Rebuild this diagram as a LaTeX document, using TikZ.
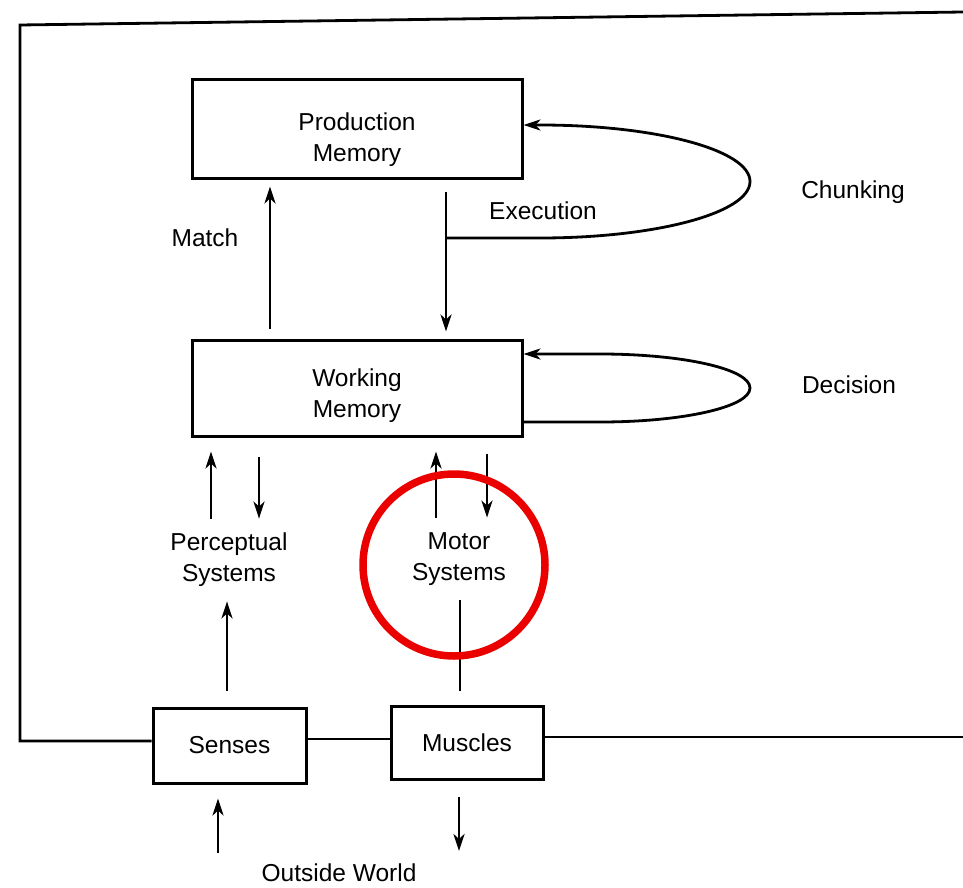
\documentclass[tikz,border=0pt]{standalone}
\usepackage{fontspec}
\setmainfont{Liberation Sans}
\usetikzlibrary{arrows.meta,calc}
\definecolor{circred}{RGB}{235,0,0}
\newcommand\dfont{\fontsize{24.5}{31}\selectfont}
\begin{document}
\begin{tikzpicture}[x=1pt,y=-1pt, line width=2.8pt,
  box/.style={draw, line width=3pt, inner sep=0pt, align=center, font=\dfont},
  lbl/.style={inner sep=0pt, align=center, font=\dfont},
  arr/.style={-{Stealth[length=17pt,width=11pt,inset=5pt]}}]
\useasboundingbox (0,0) rectangle (963,888);

% boxes
\node[box, minimum width=330pt, minimum height=98pt] (pm) at (357,129) {\rule{0pt}{40pt}Production\\Memory};
\node[box, minimum width=330pt, minimum height=96pt] (wm) at (357,388) {\rule{0pt}{34pt}Working\\Memory};
\node[lbl, minimum height=80pt] (ps) at (229,560) {Perceptual\\Systems};
\node[lbl, minimum height=80pt] (ms) at (459,559) {Motor\\Systems};
\node[box, minimum width=153pt, minimum height=75pt] (se) at (229.5,745.5) {Senses};
\node[box, minimum width=152pt, minimum height=73pt] (mu) at (467,742.5) {Muscles};
\node[lbl] (ow) at (339,873) {Outside World};

% labels
\node[lbl] (match) at (205,238) {Match};
\node[lbl] (exec) at (543,211) {Execution};
\node[lbl] (chunk) at (853,192) {Chunking};
\node[lbl] (dec) at (849,385) {Decision};

% x positions
\coordinate (xm) at (270,0);
\coordinate (xe) at (446,0);
\coordinate (xa) at (211,0);
\coordinate (xb) at (259,0);
\coordinate (xc) at (436,0);
\coordinate (xd) at (487,0);
\coordinate (xs) at (227,0);
\coordinate (xt) at (460,0);

% match / execution
\draw[arr, shorten <=10pt, shorten >=7pt] (wm.north -| xm) -- (pm.south -| xm);
\draw[arr, shorten <=12pt, shorten >=7pt] (pm.south -| xe) -- (wm.north -| xe);

% chunking loop
\coordinate (cb) at (446,238);
\draw[arr] (cb) -- (540,238) .. controls (656,238) and (750,213) .. (750,181.5)
  .. controls (750,150) and (656,125) .. (540,125) -- ([yshift=4pt]pm.east);

% decision loop
\draw[arr] ([yshift=-34pt]wm.east) -- (600,422) .. controls (683,422) and (750,407) .. (750,388)
  .. controls (750,369) and (683,354) .. (600,354) -- ([yshift=34pt]wm.east);

% WM <-> perceptual / motor
\draw[arr, shorten >=14pt] (ps.north -| xa) -- (wm.south -| xa);
\draw[arr, shorten <=19pt] (wm.south -| xb) -- (ps.north -| xb);
\draw[arr, shorten >=14pt] (ms.north -| xc) -- (wm.south -| xc);
\draw[arr, shorten <=16pt] (wm.south -| xd) -- (ms.north -| xd);

% senses -> perceptual, motor -- muscles
\draw[arr, shorten <=16pt] (se.north -| xs) -- (ps.south -| xs);
\draw[shorten >=14pt] (ms.south -| xt) -- (mu.north -| xt);

% outside world
\coordinate (oin) at (218,853);
\coordinate (oout) at (459,851);
\draw[arr, shorten >=14pt] (oin) -- (se.south -| oin);
\draw[arr, shorten <=16pt] (mu.south -| oout) -- (oout);

% frame
\coordinate (fl) at (20,741);
\coordinate (ftl) at (20,25);
\coordinate (ftr) at (963,12);
\coordinate (fr) at (963,737);
\coordinate (fm) at (0,739);
\draw (fl -| se.west) -- (fl) -- (ftl) -- (ftr);
\draw (fr -| mu.east) -- (fr);
\draw (fm -| se.east) -- (fm -| mu.west);

% highlight circle
\node[draw=circred, circle, line width=7.5pt, minimum size=182pt, inner sep=0pt] (hl) at (454,565) {};
\end{tikzpicture}
\end{document}
